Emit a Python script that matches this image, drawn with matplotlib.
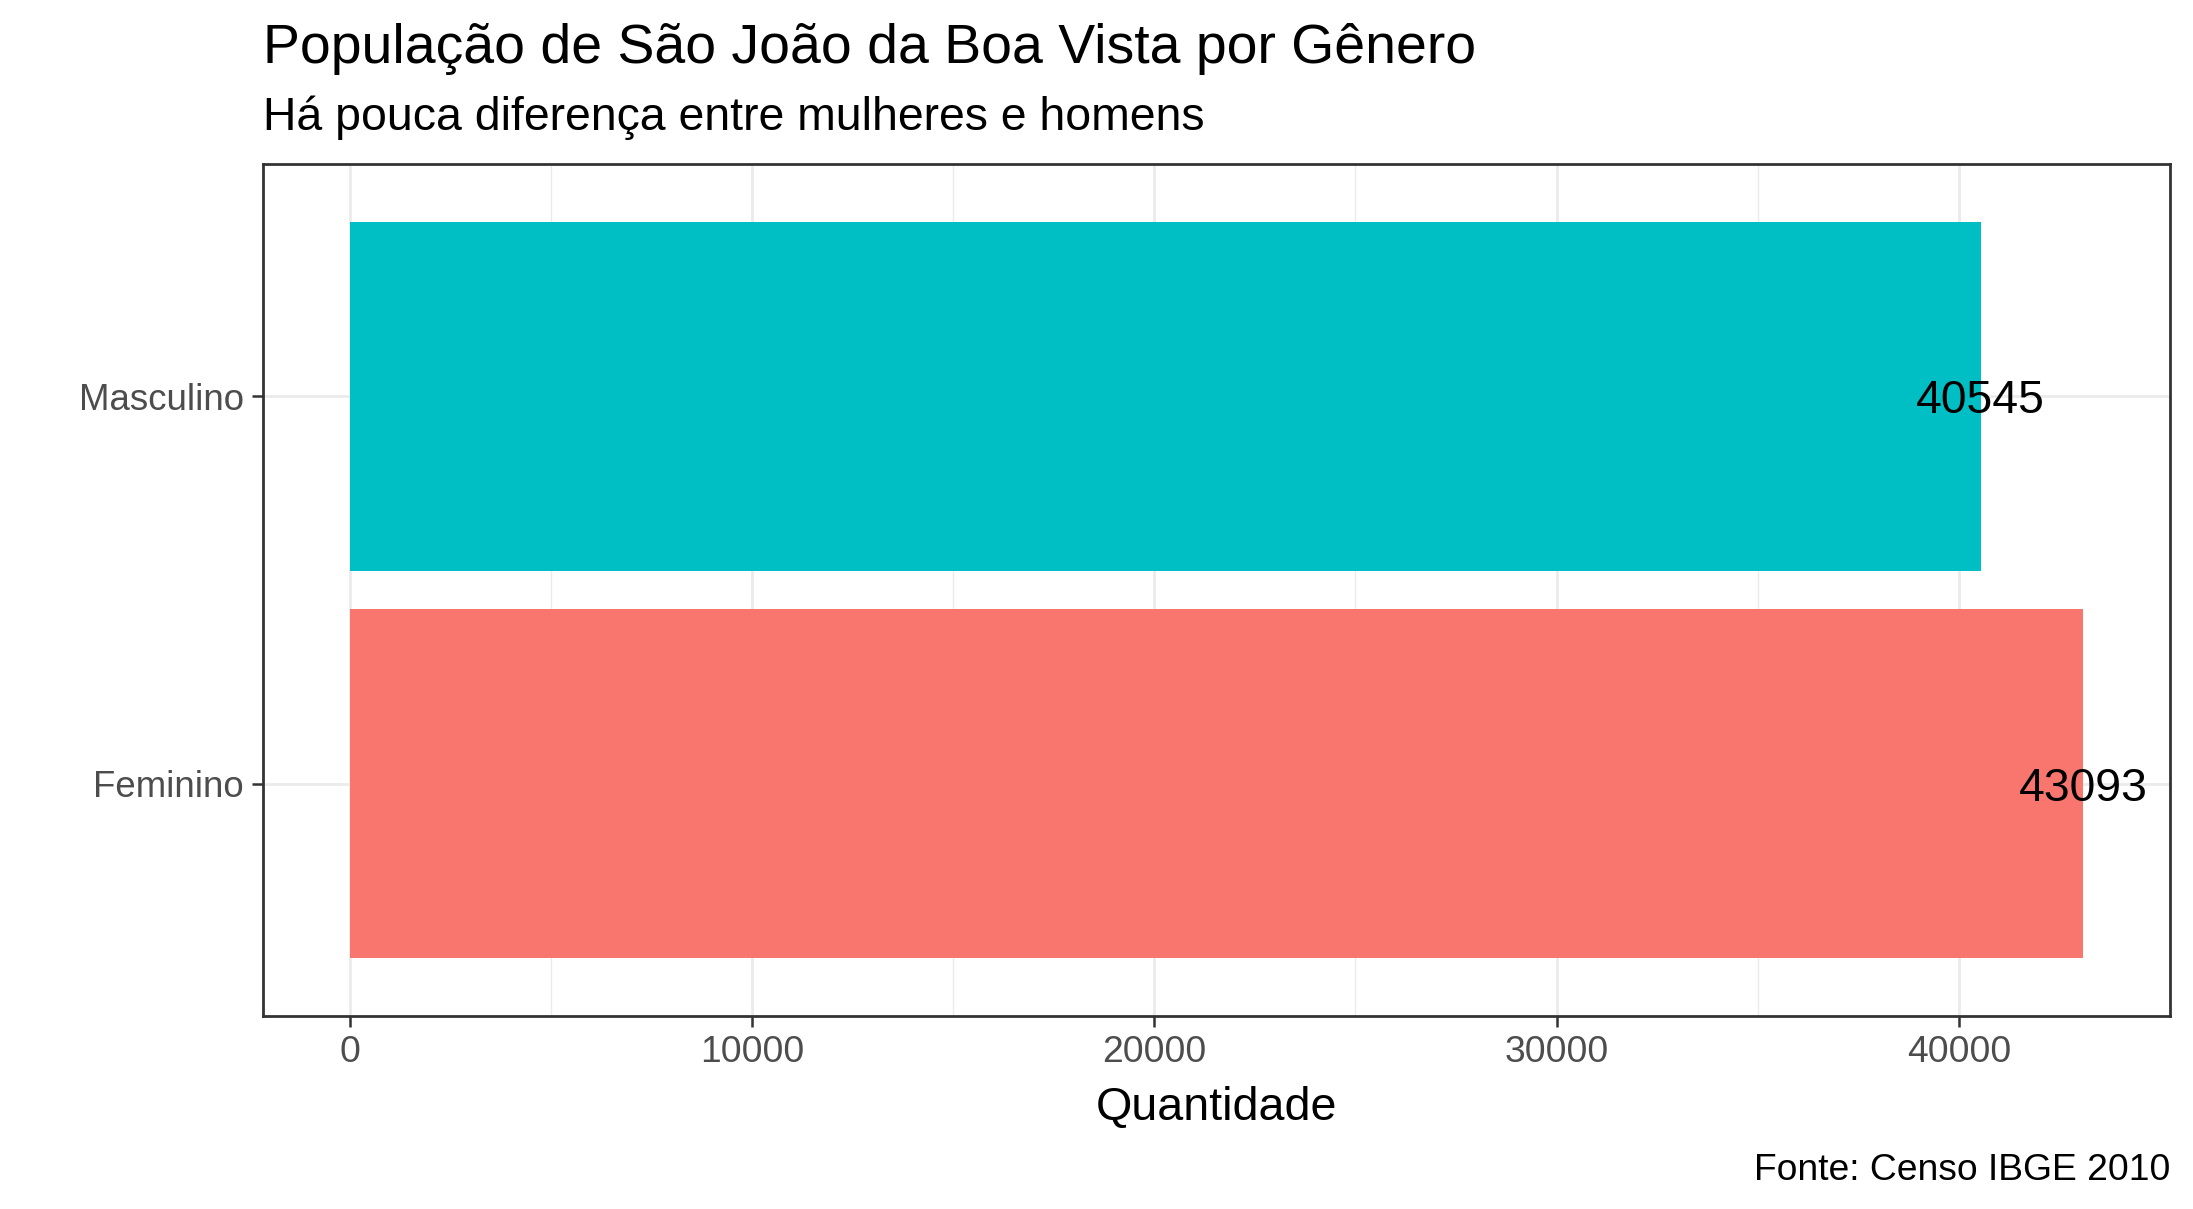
import matplotlib.pyplot as plt

plt.rcParams['font.family'] = ['Liberation Sans', 'DejaVu Sans']

# dados do censo
generos = ["Feminino", "Masculino"]
quantidades = [43093, 40545]
cores = ["#F8766D", "#00BFC4"]
ticks_x = [0, 10000, 20000, 30000, 40000]
minor_x = [5000, 15000, 25000, 35000]

fig = plt.figure(figsize=(2193 / 200, 1209 / 200), dpi=200)
ax = fig.add_axes([263 / 2193, 1 - 1016 / 1209, (2170 - 263) / 2193, (1016 - 164) / 1209])

pos = list(range(1, len(generos) + 1))
ax.barh(pos, quantidades, height=0.9, color=cores, zorder=2)
for p, q in zip(pos, quantidades):
    ax.text(q, p, str(q), ha='center', va='center_baseline', fontsize=16.7, color='black', zorder=3)

xmax = max(quantidades)
ax.set_xlim(-0.05 * xmax, 1.05 * xmax)
ax.set_ylim(0.4, len(generos) + 0.6)

ax.set_xticks(ticks_x)
ax.set_xticks(minor_x, minor=True)
ax.set_yticks(pos)
ax.set_yticklabels(generos)

ax.grid(which='major', color='#EBEBEB', linewidth=1.0, zorder=0)
ax.grid(which='minor', axis='x', color='#EBEBEB', linewidth=0.5, zorder=0)
ax.set_axisbelow(True)

ax.tick_params(axis='both', which='major', length=4, width=0.9, color='#333333',
               labelcolor='#4D4D4D', labelsize=13.4, pad=3)
ax.tick_params(axis='y', labelsize=13.2)
ax.tick_params(axis='x', which='minor', length=0)
for s in ax.spines.values():
    s.set_color('#333333')
    s.set_linewidth(1.0)

fig.text(263 / 2193, 1 - 63 / 1209, "População de São João da Boa Vista por Gênero",
         fontsize=19.95, ha='left', va='baseline')
fig.text(263 / 2193, 1 - 130 / 1209, "Há pouca diferença entre mulheres e homens",
         fontsize=16.7, ha='left', va='baseline')
fig.text((263 + 2170) / 2 / 2193, 1 - 1108 / 1209, "Quantidade",
         fontsize=16.8, ha='center', va='center')
fig.text(2170 / 2193, 1 - 1180 / 1209, "Fonte: Censo IBGE 2010",
         fontsize=13.4, ha='right', va='baseline')

fig.savefig("out.png", dpi=200, facecolor='white')
